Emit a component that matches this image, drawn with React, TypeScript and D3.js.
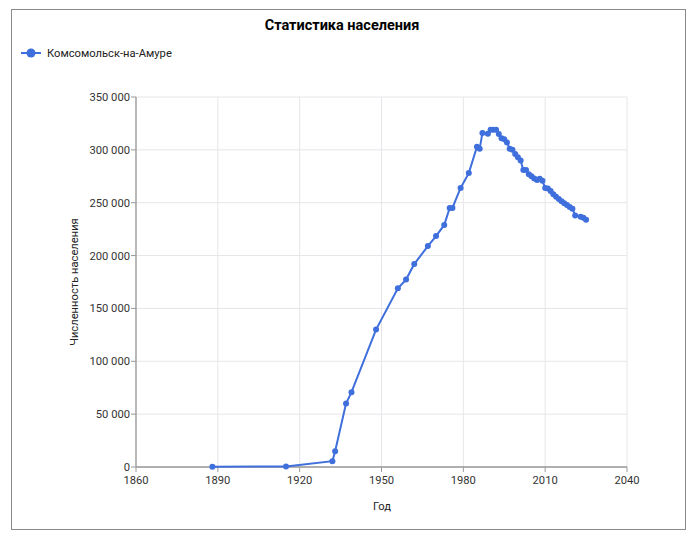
import React from "react";
import * as d3 from "d3";

const years = [1888, 1915, 1932, 1933, 1937, 1939, 1948, 1956, 1959, 1962, 1967, 1970, 1973, 1975, 1976, 1979, 1982, 1985, 1986, 1987, 1989, 1990, 1991, 1992, 1993, 1994, 1995, 1996, 1997, 1998, 1999, 2000, 2001, 2002, 2003, 2004, 2005, 2006, 2007, 2008, 2009, 2010, 2011, 2012, 2013, 2014, 2015, 2016, 2017, 2018, 2019, 2020, 2021, 2023, 2024, 2025];
const population = [200, 500, 5500, 15000, 60000, 70746, 130000, 169000, 177310, 192000, 209000, 218450, 229000, 245000, 245000, 263934, 278000, 303000, 301000, 316000, 315325, 319000, 319000, 319000, 315000, 311000, 310000, 307000, 301000, 300000, 296000, 293000, 290000, 281035, 281000, 277000, 275000, 273000, 271400, 272700, 270800, 263906, 263500, 261000, 258000, 255600, 253500, 251500, 249600, 247900, 246000, 244300, 238000, 236800, 235800, 234000];
const xTicks = [1860, 1890, 1920, 1950, 1980, 2010, 2040];
const yTicks = [0, 50000, 100000, 150000, 200000, 250000, 300000, 350000];
const seriesName = "Комсомольск-на-Амуре";
const title = "Статистика населения";
const xLabel = "Год";
const yLabel = "Численность населения";

const data = years.map((y, i) => ({ year: y, pop: population[i] }));

export default function App() {
  const W = 700, H = 536;
  const x = d3.scaleLinear().domain([1860, 2040]).range([136, 627]);
  const y = d3.scaleLinear().domain([0, 350000]).range([467, 97]);
  const fmt = (v: number) => d3.format(",")(v).replace(/,/g, "\u00a0");
  const line = d3.line<{ year: number; pop: number }>().x(d => x(d.year)).y(d => y(d.pop));
  const color = "#3f6fdc";
  const font = "Roboto, 'Noto Sans', sans-serif";
  return (
    <svg width={W} height={H} style={{ position: "absolute", left: 0, top: 0 }} fontFamily={font}>
      <rect x={0} y={0} width={W} height={H} fill="#fff" />
      <rect x={11.5} y={9.5} width={674} height={520} fill="#fff" stroke="#8a8a8a" strokeWidth={1} />
      <text x={342} y={30} textAnchor="middle" fontSize={14.5} fontWeight="bold" fill="#000">{title}</text>
      <line x1={21} x2={41} y1={53} y2={53} stroke={color} strokeWidth={2} />
      <circle cx={31} cy={53} r={4.5} fill={color} />
      <text x={47} y={57} fontSize={11.2} fill="#222">{seriesName}</text>
      {yTicks.map(t => (
        <line key={"gy" + t} x1={136} x2={627} y1={y(t)} y2={y(t)} stroke="#e6e6ea" strokeWidth={1} />
      ))}
      {xTicks.map(t => (
        <line key={"gx" + t} x1={x(t)} x2={x(t)} y1={97} y2={467} stroke="#e6e6ea" strokeWidth={1} />
      ))}
      <line x1={136} x2={136} y1={97} y2={467} stroke="#999" strokeWidth={1.3} />
      <line x1={136} x2={627} y1={467} y2={467} stroke="#999" strokeWidth={1.3} />
      {yTicks.map(t => (
        <g key={"ty" + t}>
          <line x1={131} x2={136} y1={y(t)} y2={y(t)} stroke="#999" />
          <text x={130} y={y(t) + 4} textAnchor="end" fontSize={11.2} fill="#333">{fmt(t)}</text>
        </g>
      ))}
      {xTicks.map(t => (
        <g key={"tx" + t}>
          <line x1={x(t)} x2={x(t)} y1={467} y2={472} stroke="#999" />
          <text x={x(t)} y={484} textAnchor="middle" fontSize={11.2} fill="#333">{t}</text>
        </g>
      ))}
      <text x={382} y={510} textAnchor="middle" fontSize={11.2} fill="#222">{xLabel}</text>
      <text transform={`translate(78,282) rotate(-90)`} textAnchor="middle" fontSize={11.2} fill="#222">{yLabel}</text>
      <path d={line(data) || ""} fill="none" stroke={color} strokeWidth={2} />
      {data.map(d => (
        <circle key={d.year} cx={x(d.year)} cy={y(d.pop)} r={3} fill={color} />
      ))}
    </svg>
  );
}
